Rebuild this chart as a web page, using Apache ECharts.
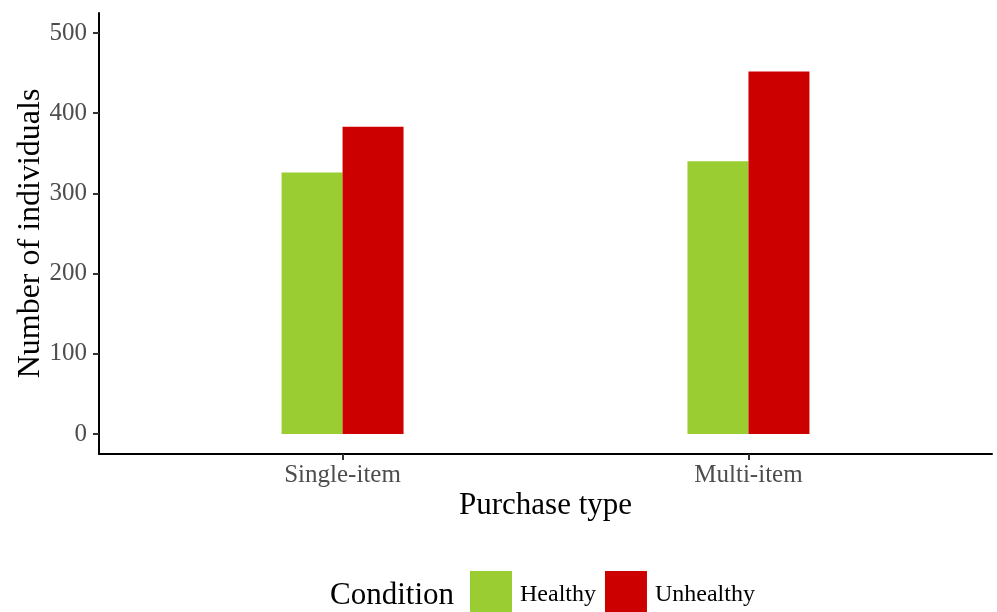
<!DOCTYPE html>
<html>
<head>
<meta charset="utf-8">
<script src="https://cdn.jsdelivr.net/npm/echarts@6/dist/echarts.min.js"></script>
<style>
html,body{margin:0;padding:0;background:#fff;}
#chart{width:997px;height:612px;}
</style>
</head>
<body>
<div id="chart"></div>
<script>
const categories = ['Single-item', 'Multi-item'];
const healthy = [326, 340];
const unhealthy = [383, 452];
const yTicks = [0, 100, 200, 300, 400, 500];
const seriesNames = ['Healthy', 'Unhealthy'];

const catPos = categories.map((c, i) => i + 1);
const FONT = 'Liberation Serif';

const chart = echarts.init(document.getElementById('chart'), null, {renderer: 'canvas'});
chart.setOption({
  animation: false,
  backgroundColor: '#fff',
  grid: {left: 99, right: 5, top: 13, bottom: 158, containLabel: false, outerBoundsMode: 'none'},
  xAxis: {
    type: 'value',
    min: 0.4, max: 2.6,
    name: 'Purchase type',
    nameLocation: 'middle',
    nameGap: 36,
    nameMoveOverlap: false,
    nameTextStyle: {fontFamily: FONT, fontSize: 31, color: '#000'},
    axisLine: {show: true, onZero: false, lineStyle: {color: '#000', width: 2}},
    axisTick: {show: true, length: 6, customValues: catPos, lineStyle: {color: '#333', width: 2}},
    axisLabel: {
      customValues: catPos, margin: 9,
      fontFamily: FONT, fontSize: 25, color: '#4d4d4d',
      formatter: v => categories[Math.round(v) - 1] || ''
    },
    splitLine: {show: false}
  },
  yAxis: {
    type: 'value',
    min: -25, max: 525,
    name: 'Number of individuals',
    nameLocation: 'middle',
    nameRotate: 90,
    nameGap: 52,
    nameMoveOverlap: false,
    nameTextStyle: {fontFamily: FONT, fontSize: 32, color: '#000'},
    axisLine: {show: true, onZero: false, lineStyle: {color: '#000', width: 2}},
    axisTick: {show: true, length: 6, customValues: yTicks, lineStyle: {color: '#333', width: 2}},
    axisLabel: {customValues: yTicks, margin: 12, fontFamily: FONT, fontSize: 25, color: '#4d4d4d'},
    splitLine: {show: false}
  },
  legend: {
    data: seriesNames,
    left: 470, top: 571, padding: 0,
    itemWidth: 42, itemHeight: 42, itemGap: 9,
    icon: 'rect',
    formatter: '{t|{name}}',
    textStyle: {
      fontFamily: FONT, fontSize: 24, color: '#000',
      rich: {t: {fontFamily: FONT, fontSize: 24, color: '#000', padding: [6, 0, 0, 3]}}
    }
  },
  graphic: [{
    type: 'text', left: 330, top: 580,
    style: {text: 'Condition', fontFamily: FONT, fontSize: 31, fill: '#000'}
  }],
  series: [
    {name: seriesNames[0], type: 'bar', barWidth: 61, barGap: '0%',
     itemStyle: {color: '#9ACD32'},
     data: catPos.map((p, i) => [p, healthy[i]])},
    {name: seriesNames[1], type: 'bar', barWidth: 61, barGap: '0%',
     itemStyle: {color: '#CD0000'},
     data: catPos.map((p, i) => [p, unhealthy[i]])}
  ]
});
</script>
</body>
</html>
